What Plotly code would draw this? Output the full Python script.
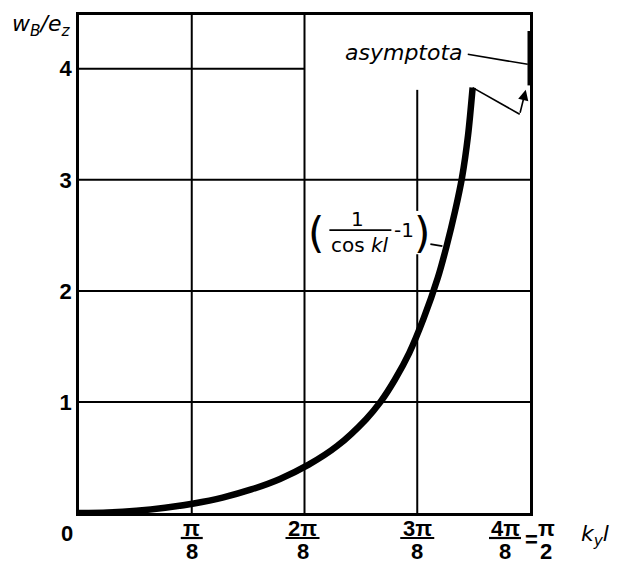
import math
import plotly.graph_objects as go

# ---- data ----
kl = [0, 0.10, 0.20, 0.30, 0.40, 0.50, 0.60, 0.70, 0.80, 0.90, 1.00, 1.05,
      1.10, 1.15, 1.20, 1.25, 1.28, 1.31, 1.334, 1.355, 1.371]
w = [0, 0.005, 0.020, 0.047, 0.086, 0.139, 0.212, 0.307, 0.435, 0.605, 0.845, 1.00,
     1.20, 1.44, 1.75, 2.12, 2.40, 2.72, 3.02, 3.40, 3.83]

PI = math.pi
x_ticks = [PI / 8, 2 * PI / 8, 3 * PI / 8, 4 * PI / 8]
x_num = ["π", "2π", "3π", "4π"]
x_den = ["8", "8", "8", "8"]
y_ticks = [1, 2, 3, 4]
y_text = ["1", "2", "3", "4"]

asym_y = [3.85, 4.34]          # thick asymptote stroke at x = pi/2
zig_x = [1.371, 1.535]         # pointer from curve tip
zig_y = [3.83, 3.59]
arrow_head = (1.556, 3.81)
asym_leader_x = [1.354, 1.563]
asym_leader_y = [4.13, 4.04]

X_MAX = PI / 2
Y_MAX = 4.484

fig = go.Figure()
fig.add_trace(go.Scatter(x=kl, y=w, mode="lines",
                         line=dict(color="black", width=6.5, shape="spline", smoothing=0.8),
                         cliponaxis=False, hoverinfo="skip"))
fig.add_trace(go.Scatter(x=[X_MAX, X_MAX], y=asym_y, mode="lines",
                         line=dict(color="black", width=5), cliponaxis=False, hoverinfo="skip"))
fig.add_trace(go.Scatter(x=zig_x, y=zig_y, mode="lines",
                         line=dict(color="black", width=1.6), hoverinfo="skip"))
fig.add_trace(go.Scatter(x=asym_leader_x, y=asym_leader_y, mode="lines",
                         line=dict(color="black", width=1.6), cliponaxis=False, hoverinfo="skip"))

shapes = []
GW = 2
# vertical grid lines
shapes.append(dict(type="line", xref="x", yref="y", x0=x_ticks[0], x1=x_ticks[0], y0=0, y1=Y_MAX,
                   line=dict(color="black", width=GW), layer="below"))
shapes.append(dict(type="line", xref="x", yref="y", x0=x_ticks[1], x1=x_ticks[1], y0=0, y1=Y_MAX,
                   line=dict(color="black", width=GW), layer="below"))
shapes.append(dict(type="line", xref="x", yref="y", x0=x_ticks[2], x1=x_ticks[2], y0=0, y1=2.33,
                   line=dict(color="black", width=GW), layer="below"))
shapes.append(dict(type="line", xref="x", yref="y", x0=x_ticks[2], x1=x_ticks[2], y0=2.72, y1=3.81,
                   line=dict(color="black", width=GW), layer="below"))
# horizontal grid lines
for yv in y_ticks[:3]:
    shapes.append(dict(type="line", xref="x", yref="y", x0=0, x1=X_MAX, y0=yv, y1=yv,
                       line=dict(color="black", width=GW), layer="below"))
shapes.append(dict(type="line", xref="x", yref="y", x0=0, x1=x_ticks[1], y0=4, y1=4,
                   line=dict(color="black", width=GW), layer="below"))

annotations = []
tick_font = dict(family="Liberation Sans, Arial, sans-serif", size=22, color="black")
bar_half = [11, 17, 17, 16]
x_off = [0, -2, 0, -25]
for xv, nm, dn, bh, xo in zip(x_ticks, x_num, x_den, bar_half, x_off):
    annotations.append(dict(x=xv, y=0, xref="x", yref="paper", text="<b>%s</b>" % nm,
                            showarrow=False, xanchor="center", yanchor="middle",
                            xshift=xo, yshift=-15, font=tick_font))
    annotations.append(dict(x=xv, y=0, xref="x", yref="paper", text="<b>%s</b>" % dn,
                            showarrow=False, xanchor="center", yanchor="middle",
                            xshift=xo, yshift=-38, font=tick_font))
    shapes.append(dict(type="line", xref="x", yref="paper", xsizemode="pixel", ysizemode="pixel",
                       xanchor=xv, yanchor=0, x0=xo - bh, x1=xo + bh, y0=-25, y1=-25,
                       line=dict(color="black", width=2.2)))
# "= pi/2  k_y l"
annotations.append(dict(x=X_MAX, y=0, xref="x", yref="paper", text="<b>=</b>", showarrow=False,
                        xanchor="center", yanchor="middle", xshift=1, yshift=-26, font=tick_font))
annotations.append(dict(x=X_MAX, y=0, xref="x", yref="paper", text="<b>π</b>", showarrow=False,
                        xanchor="center", yanchor="middle", xshift=16, yshift=-15, font=tick_font))
annotations.append(dict(x=X_MAX, y=0, xref="x", yref="paper", text="<b>2</b>", showarrow=False,
                        xanchor="center", yanchor="middle", xshift=16, yshift=-38, font=tick_font))
shapes.append(dict(type="line", xref="x", yref="paper", xsizemode="pixel", ysizemode="pixel",
                   xanchor=X_MAX, yanchor=0, x0=6, x1=26, y0=-25, y1=-25,
                   line=dict(color="black", width=2.2)))
annotations.append(dict(x=X_MAX, y=0, xref="x", yref="paper",
                        text="<i>k<sub>y</sub>l</i>", showarrow=False,
                        xanchor="center", yanchor="middle", xshift=65, yshift=-22,
                        font=dict(family="DejaVu Sans, sans-serif", size=22, color="black")))
# "0" label
annotations.append(dict(x=0, y=0, xref="x", yref="paper", text="<b>0</b>", showarrow=False,
                        xanchor="center", yanchor="middle", xshift=-12, yshift=-20, font=tick_font))
# y axis title
annotations.append(dict(x=0, y=1, xref="paper", yref="paper",
                        text="<i>w<sub>B</sub>/e<sub>z</sub></i>", showarrow=False,
                        xanchor="right", yanchor="middle", xshift=-6, yshift=-10,
                        font=dict(family="DejaVu Sans, sans-serif", size=22, color="black")))
# asymptota label
annotations.append(dict(x=1.354, y=4.13, xref="x", yref="y", text="<i>asymptota</i>",
                        showarrow=False, xanchor="right", yanchor="middle", xshift=-3, yshift=2,
                        font=dict(family="DejaVu Sans, sans-serif", size=22, color="black")))
# arrow pointing to asymptote
annotations.append(dict(x=arrow_head[0], y=arrow_head[1], xref="x", yref="y",
                        ax=zig_x[1], ay=zig_y[1], axref="x", ayref="y", text="",
                        showarrow=True, arrowhead=2, arrowsize=1.3, arrowwidth=1.6,
                        arrowcolor="black"))
# formula label (1/(cos kl) - 1)
lab_x = 0.98
lab_y = 2.52
ff = dict(family="DejaVu Sans, sans-serif", size=20, color="black")
annotations.append(dict(x=lab_x, y=lab_y, xref="x", yref="y", text="(", showarrow=False,
                        xanchor="center", yanchor="middle", xshift=-44, yshift=0,
                        font=dict(family="DejaVu Sans, sans-serif", size=42, color="black")))
annotations.append(dict(x=lab_x, y=lab_y, xref="x", yref="y", text="1", showarrow=False,
                        xanchor="center", yanchor="middle", xshift=-3, yshift=14, font=ff))
shapes.append(dict(type="line", xref="x", yref="y", xsizemode="pixel", ysizemode="pixel",
                   xanchor=lab_x, yanchor=lab_y, x0=-31, x1=31, y0=3, y1=3,
                   line=dict(color="black", width=1.8)))
annotations.append(dict(x=lab_x, y=lab_y, xref="x", yref="y", text="cos <i>kl</i>", showarrow=False,
                        xanchor="center", yanchor="middle", xshift=0, yshift=-12, font=ff))
annotations.append(dict(x=lab_x, y=lab_y, xref="x", yref="y", text="-1", showarrow=False,
                        xanchor="center", yanchor="middle", xshift=44, yshift=3, font=ff))
annotations.append(dict(x=lab_x, y=lab_y, xref="x", yref="y", text=")", showarrow=False,
                        xanchor="center", yanchor="middle", xshift=62, yshift=0,
                        font=dict(family="DejaVu Sans, sans-serif", size=42, color="black")))
shapes.append(dict(type="line", xref="x", yref="y", xsizemode="pixel", ysizemode="pixel",
                   xanchor=lab_x, yanchor=lab_y, x0=70, x1=82, y0=-11, y1=-13,
                   line=dict(color="black", width=1.6)))

fig.update_layout(
    width=617, height=563,
    margin=dict(l=79, r=87, t=13, b=50),
    plot_bgcolor="white", paper_bgcolor="white",
    showlegend=False, hovermode=False,
    shapes=shapes, annotations=annotations,
    xaxis=dict(range=[0, X_MAX], showgrid=False, zeroline=False, showline=True, mirror=True,
               linecolor="black", linewidth=2.5, showticklabels=False, ticks=""),
    yaxis=dict(range=[0, Y_MAX], showgrid=False, zeroline=False, showline=True, mirror=True,
               linecolor="black", linewidth=2.5, tickvals=y_ticks,
               ticktext=["<b>%s</b>" % t for t in y_text], ticks="inside", ticklen=4,
               tickcolor="black", tickfont=tick_font),
)

fig.write_html("out.html", config={"displayModeBar": False},
               post_script="document.body.style.margin='0';document.body.style.padding='0';")
